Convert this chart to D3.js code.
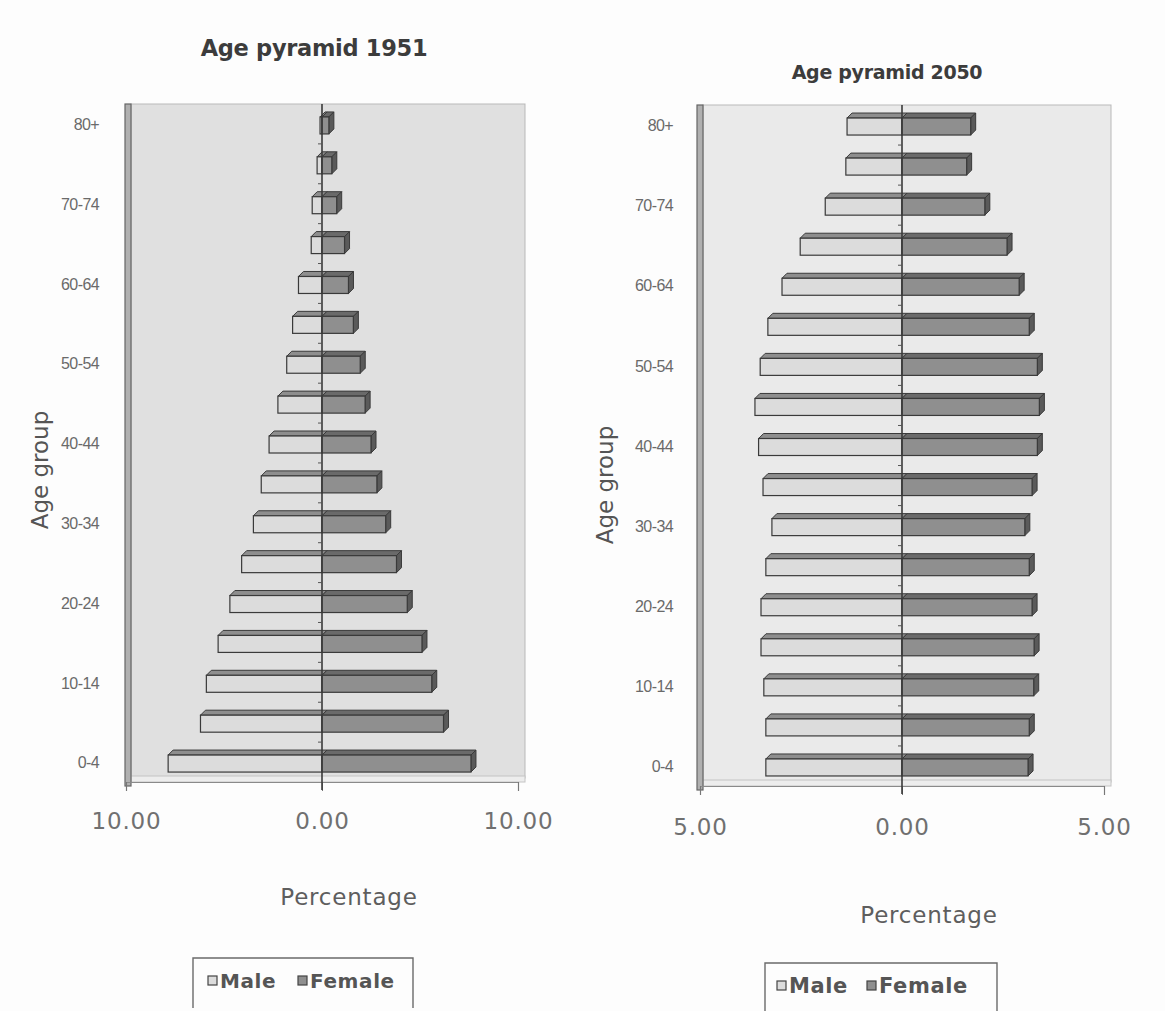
<!DOCTYPE html>
<html>
<head>
<meta charset="utf-8">
<script src="https://cdn.jsdelivr.net/npm/d3@7"></script>
<style>
  html, body { margin: 0; padding: 0; background: #fdfdfd; }
  svg { display: block; }
</style>
</head>
<body>
<svg id="chart" width="1165" height="1011"></svg>
<script>
// Age groups, youngest first
const ageGroups = ["0-4","5-9","10-14","15-19","20-24","25-29","30-34","35-39","40-44",
                   "45-49","50-54","55-59","60-64","65-69","70-74","75-79","80+"];
// Share of total population (%) per age group
const male1951   = [7.85,6.2,5.9,5.3,4.7,4.1,3.5,3.1,2.7,2.25,1.8,1.5,1.2,0.55,0.5,0.25,0.1];
const female1951 = [7.6,6.2,5.6,5.1,4.35,3.8,3.25,2.8,2.5,2.2,1.95,1.6,1.35,1.15,0.75,0.5,0.35];
const male2050   = [3.37,3.37,3.42,3.49,3.49,3.37,3.22,3.44,3.55,3.64,3.51,3.32,2.97,2.52,1.9,1.39,1.36];
const female2050 = [3.12,3.15,3.26,3.27,3.22,3.15,3.04,3.22,3.35,3.4,3.35,3.15,2.9,2.6,2.05,1.6,1.7];
// Labelled age groups and axis ticks
const yTickLabels = ["0-4","10-14","20-24","30-34","40-44","50-54","60-64","70-74","80+"];
const ticks1951 = [-10, 0, 10];
const ticks2050 = [-5, 0, 5];
const seriesNames = ["Male", "Female"];

const svg = d3.select("#chart");
const fmt = d => d3.format(".2f")(Math.abs(d));

const colors = {
  maleFront: "#dcdcdc", maleTop: "#8e8e8e",
  femaleFront: "#8f8f8f", femaleTop: "#6a6a6a", femaleSide: "#5a5a5a",
  edge: "#3a3a3a"
};

function drawPyramid(cfg) {
  const g = svg.append("g");
  const x = d3.scaleLinear().domain(cfg.domain).range([cfg.x0, cfg.x1]);
  const y = d3.scaleBand().domain(ageGroups).range([cfg.bottom, cfg.top]).padding(0);

  // back wall
  g.append("rect")
    .attr("x", cfg.wallX).attr("y", cfg.top)
    .attr("width", cfg.wallRight - cfg.wallX).attr("height", cfg.bottom - cfg.top - 4)
    .attr("fill", cfg.wallFill).attr("stroke", "#b9b9b9").attr("stroke-width", 1);
  // floor strip
  g.append("rect")
    .attr("x", cfg.wallX).attr("y", cfg.bottom - 6)
    .attr("width", cfg.wallRight - cfg.wallX).attr("height", 6)
    .attr("fill", "#ededed").attr("stroke", "#c4c4c4").attr("stroke-width", 1);
  // side wall seen edge-on
  g.append("rect")
    .attr("x", cfg.wallX - 6).attr("y", cfg.top)
    .attr("width", 6).attr("height", cfg.bottom - cfg.top + 4)
    .attr("fill", "#b0b0b0").attr("stroke", "#666").attr("stroke-width", 1.2);

  // bottom value axis
  const xAxis = d3.axisBottom(x).tickValues(cfg.ticks).tickFormat(fmt).tickSize(9).tickPadding(cfg.tickPad);
  const ax = g.append("g").attr("transform", `translate(0,${cfg.bottom})`).call(xAxis);
  ax.select(".domain").attr("stroke", "#8a8a8a").attr("stroke-width", 1.2);
  ax.selectAll(".tick line").attr("stroke", "#777");
  ax.selectAll(".tick text")
    .attr("fill", "#707070").attr("font-family", "DejaVu Sans, sans-serif")
    .attr("font-size", 23).attr("letter-spacing", 0.8);

  const rows = ageGroups.map((a, i) => ({ age: a, m: cfg.male[i], f: cfg.female[i] }));
  const d = 5, topH = 5, below = 10;
  const cy = a => y(a) + y.bandwidth() / 2;
  const x0 = x(0);

  const bars = g.append("g").selectAll("g").data(rows).join("g");
  // male: front + top
  bars.append("path")
    .attr("d", r => {
      const c = cy(r.age), xl = x(-r.m);
      return `M${xl},${c - 7}L${xl + d},${c - 7 - topH}L${x0 + d},${c - 7 - topH}L${x0},${c - 7}Z`;
    })
    .attr("fill", colors.maleTop).attr("stroke", colors.edge).attr("stroke-width", 1);
  bars.append("rect")
    .attr("x", r => x(-r.m)).attr("y", r => cy(r.age) - 7)
    .attr("width", r => x0 - x(-r.m)).attr("height", 7 + below)
    .attr("fill", colors.maleFront).attr("stroke", colors.edge).attr("stroke-width", 1.2);
  // female: top + side + front
  bars.append("path")
    .attr("d", r => {
      const c = cy(r.age), xr = x(r.f);
      return `M${x0},${c - 7}L${x0 + d},${c - 7 - topH}L${xr + d},${c - 7 - topH}L${xr},${c - 7}Z`;
    })
    .attr("fill", colors.femaleTop).attr("stroke", colors.edge).attr("stroke-width", 1);
  bars.append("path")
    .attr("d", r => {
      const c = cy(r.age), xr = x(r.f);
      return `M${xr},${c - 7}L${xr + d},${c - 7 - topH}L${xr + d},${c + below - topH}L${xr},${c + below}Z`;
    })
    .attr("fill", colors.femaleSide).attr("stroke", colors.edge).attr("stroke-width", 1);
  bars.append("rect")
    .attr("x", x0).attr("y", r => cy(r.age) - 7)
    .attr("width", r => x(r.f) - x0).attr("height", 7 + below)
    .attr("fill", colors.femaleFront).attr("stroke", colors.edge).attr("stroke-width", 1.2);

  // category axis through zero
  const yAxis = d3.axisLeft(y).tickValues([]).tickSize(0);
  const cax = g.append("g").attr("transform", `translate(${x0},0)`).call(yAxis);
  cax.select(".domain").attr("stroke", "#3a3a3a").attr("stroke-width", 1.6)
    .attr("d", `M0,${cfg.top}V${cfg.bottom + 8}`);
  g.append("g").selectAll("line")
    .data(ageGroups.slice(1))
    .join("line")
    .attr("x1", x0 - 4).attr("x2", x0)
    .attr("y1", a => y(a) + y.bandwidth()).attr("y2", a => y(a) + y.bandwidth())
    .attr("stroke", "#555").attr("stroke-width", 1);

  // age-group labels on the left
  g.append("g").selectAll("text")
    .data(yTickLabels)
    .join("text")
    .attr("x", cfg.labelX).attr("y", a => cy(a) + 2)
    .attr("text-anchor", "end").attr("dominant-baseline", "middle")
    .attr("font-family", "Liberation Sans, Arial, sans-serif").attr("font-size", 16)
    .attr("letter-spacing", -0.6)
    .attr("fill", "#6a6a6a")
    .text(a => a);

  // titles
  g.append("text")
    .attr("x", cfg.titleX).attr("y", cfg.titleY)
    .attr("text-anchor", "middle")
    .attr("font-family", "DejaVu Sans, sans-serif").attr("font-weight", "bold")
    .attr("font-size", cfg.titleFont).attr("letter-spacing", -0.3)
    .attr("fill", "#3c3c3c").text(cfg.title);
  g.append("text")
    .attr("x", cfg.xTitleX).attr("y", cfg.xTitleY)
    .attr("text-anchor", "middle")
    .attr("font-family", "DejaVu Sans, sans-serif").attr("font-size", 23)
    .attr("letter-spacing", 0.8)
    .attr("fill", "#5e5e5e").text("Percentage");
  g.append("text")
    .attr("transform", `translate(${cfg.yTitleX},${cfg.yTitleY}) rotate(-90)`)
    .attr("text-anchor", "middle")
    .attr("font-family", "DejaVu Sans, sans-serif").attr("font-size", 23)
    .attr("fill", "#555").text("Age group");

  // legend
  const lg = g.append("g").attr("transform", `translate(${cfg.legendX},${cfg.legendY})`);
  lg.append("path")
    .attr("d", `M0,${cfg.legendH}V0H${cfg.legendW}V${cfg.legendH}`)
    .attr("fill", "none").attr("stroke", "#6a6a6a").attr("stroke-width", 1.4);
  const items = lg.selectAll("g").data(seriesNames).join("g")
    .attr("transform", (s, i) => `translate(${cfg.legendItemX[i]},23)`);
  items.append("rect")
    .attr("x", 0).attr("y", -5).attr("width", 9).attr("height", 9)
    .attr("fill", (s, i) => i === 0 ? colors.maleFront : colors.femaleFront)
    .attr("stroke", "#444").attr("stroke-width", 1.2);
  items.append("text")
    .attr("x", 12).attr("y", 1).attr("dominant-baseline", "middle")
    .attr("font-family", "DejaVu Sans, sans-serif").attr("font-weight", "bold")
    .attr("font-size", cfg.legendFont).attr("letter-spacing", 0.6)
    .attr("fill", "#555").text(s => s);
}

drawPyramid({
  male: male1951, female: female1951, domain: [-10, 10], ticks: ticks1951,
  x0: 126, x1: 518, top: 104, bottom: 782, wallX: 131, wallRight: 525, wallFill: "#e0e0e0",
  labelX: 99, tickPad: 22, title: "Age pyramid 1951", titleX: 314, titleY: 56, titleFont: 22.5,
  xTitleX: 349, xTitleY: 905, yTitleX: 48, yTitleY: 470,
  legendX: 193, legendY: 958, legendW: 220, legendH: 50, legendItemX: [15, 105], legendFont: 20
});
drawPyramid({
  male: male2050, female: female2050, domain: [-5, 5], ticks: ticks2050,
  x0: 700, x1: 1104, top: 105, bottom: 786, wallX: 703, wallRight: 1111, wallFill: "#eaeaea",
  labelX: 673, tickPad: 24, title: "Age pyramid 2050", titleX: 887, titleY: 79, titleFont: 19,
  xTitleX: 929, xTitleY: 923, yTitleX: 613, yTitleY: 485,
  legendX: 765, legendY: 963, legendW: 232, legendH: 50, legendItemX: [12, 102], legendFont: 21
});
</script>
</body>
</html>
